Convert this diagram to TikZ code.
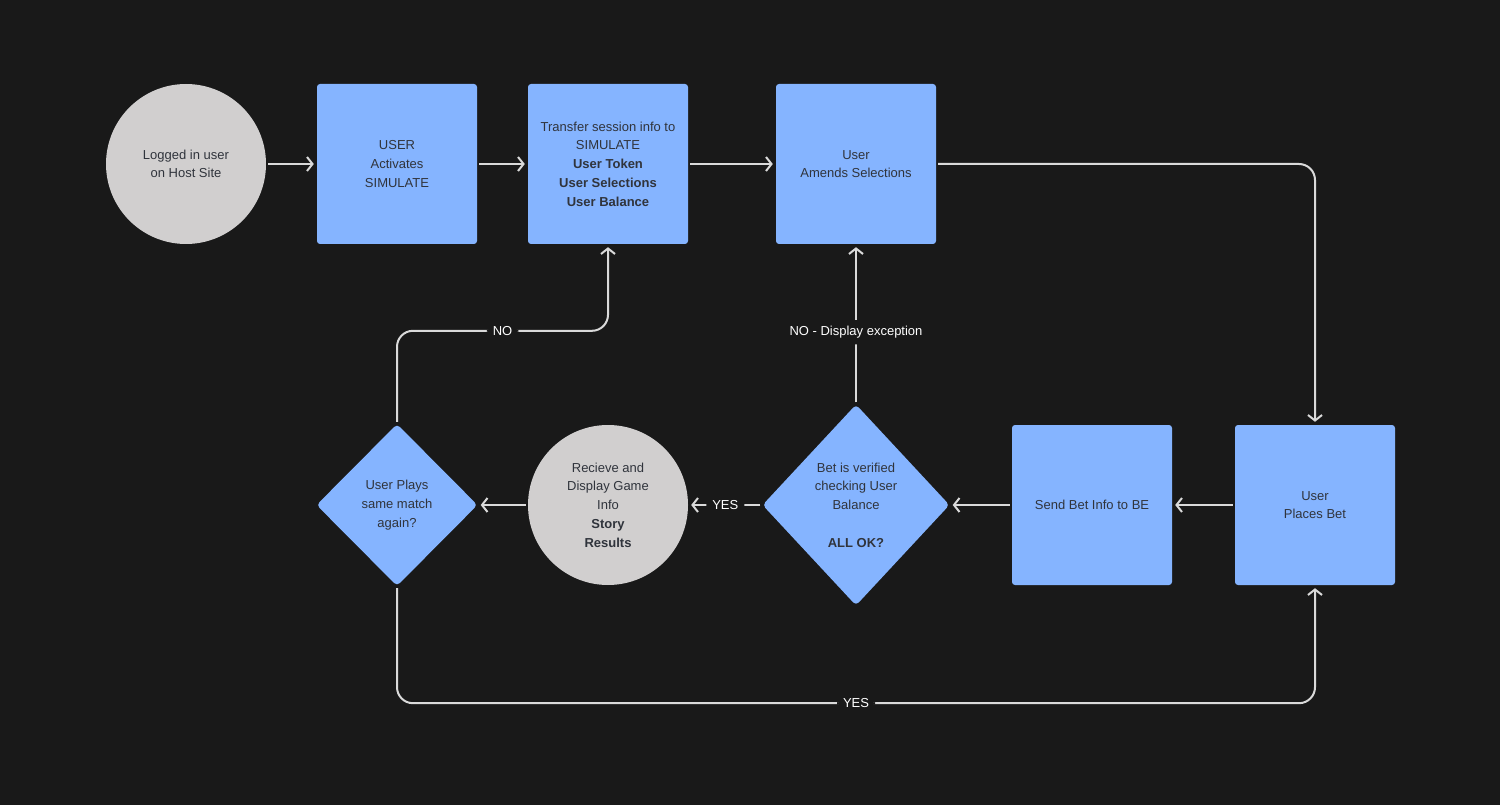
\documentclass[tikz,border=0pt]{standalone}
\usepackage{fontspec}
\setmainfont{Liberation Sans}
\usetikzlibrary{arrows.meta,shapes.geometric}
\definecolor{bg}{HTML}{191919}
\definecolor{boxblue}{HTML}{85B4FF}
\definecolor{circgray}{HTML}{D1CFCF}
\definecolor{linegray}{HTML}{DADADA}
\definecolor{txt}{HTML}{30343C}
\tikzset{
  txtfont/.style={font=\fontsize{13}{18.7}\selectfont},
  box/.style={fill=boxblue, rounded corners=3pt, minimum width=160pt, minimum height=160pt,
    inner sep=0pt, text=txt, align=center, txtfont},
  roundbox/.style={circle, fill=circgray, minimum size=160pt, inner sep=0pt,
    text=txt, align=center, txtfont},
  decide/.style={diamond, fill=boxblue, rounded corners=4pt, inner sep=0pt,
    text=txt, align=center, txtfont},
  link/.style={draw=linegray, line width=2pt, rounded corners=16pt,
    -{Straight Barb[length=5.5pt,width=14pt,line width=2pt]}, shorten >=3pt, shorten <=2pt},
  lbl/.style={fill=bg, text=white, inner sep=6pt, txtfont}
}
\begin{document}
\begin{tikzpicture}[x=1pt,y=-1pt]
  \fill[bg] (0,0) rectangle (1500,805);

  \node[roundbox] (login) at (186,164) {Logged in user\\on Host Site};
  \node[box] (activate) at (397,164) {USER\\Activates\\SIMULATE};
  \node[box] (transfer) at (608,164) {Transfer session info to\\SIMULATE\\\textbf{User Token}\\\textbf{User Selections}\\\textbf{User Balance}};
  \node[box] (amend) at (856,164) {User\\Amends Selections};

  \node[box] (place) at (1315,505) {User\\Places Bet};
  \node[box] (send) at (1092,505) {Send Bet Info to BE};
  \node[decide, minimum width=187pt, minimum height=201pt] (verify) at (856,505)
    {Bet is verified\\checking User\\Balance\\[18.7pt]\textbf{ALL OK?}};
  \node[roundbox] (result) at (608,505) {Recieve and\\Display Game\\Info\\\textbf{Story}\\\textbf{Results}};
  \node[decide, minimum width=161pt, minimum height=162pt] (again) at (397,505)
    {User Plays\\same match\\again?};

  \draw[link] (login) -- (activate);
  \draw[link] (activate) -- (transfer);
  \draw[link] (transfer) -- (amend);
  \draw[link] (amend.east) -| (place.north);
  \draw[link] (place) -- (send);
  \draw[link] (send) -- (verify);
  \draw[link] (verify.north) -- node[lbl, pos=0.45] {NO - Display exception} (amend.south);
  \draw[link] (verify.west) -- node[lbl] {YES} (result.east);
  \draw[link] (result) -- (again);
  \draw[link] (again.north) -- ++(0,-93) -| node[lbl, pos=0.25] {NO} (transfer.south);
  \draw[link] (again.south) -- ++(0,117) -| node[lbl, pos=0.25] {YES} (place.south);
\end{tikzpicture}
\end{document}
